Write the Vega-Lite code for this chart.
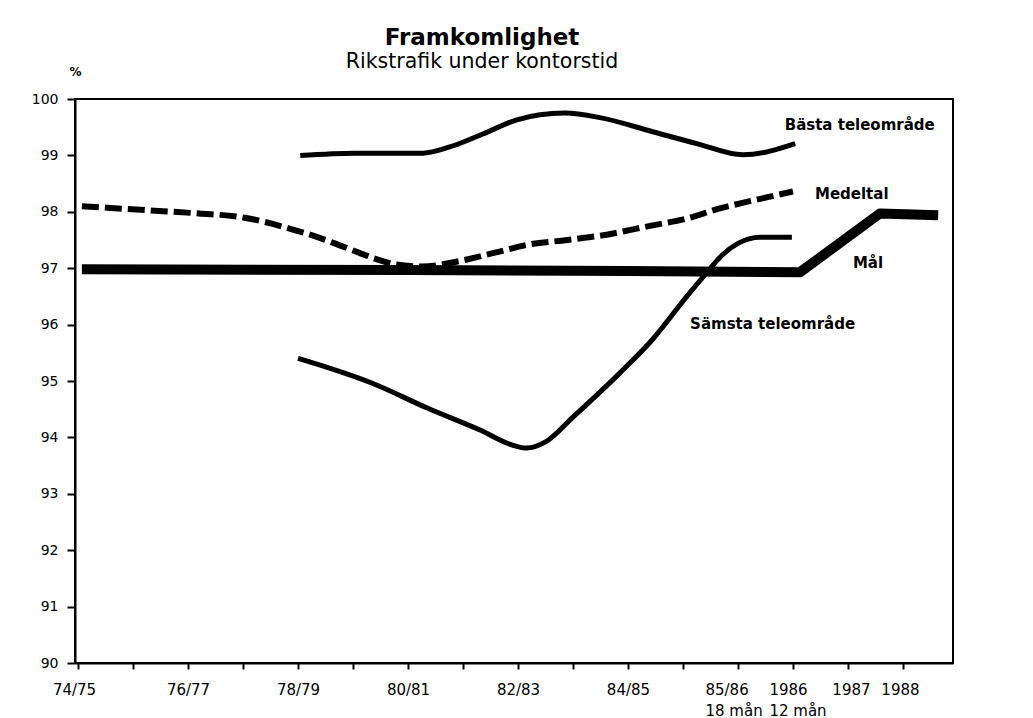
{
  "$schema": "https://vega.github.io/schema/vega-lite/v6.json",
  "autosize": "none",
  "width": 878,
  "height": 564,
  "padding": {"left": 75, "top": 99, "right": 80, "bottom": 55},
  "background": "white",
  "title": {
    "text": "Framkomlighet",
    "subtitle": "Rikstrafik under kontorstid",
    "anchor": "middle",
    "dx": -32,
    "offset": -7,
    "font": "DejaVu Sans",
    "fontSize": 23,
    "fontWeight": "bold",
    "color": "black",
    "subtitleFont": "DejaVu Sans",
    "subtitleFontSize": 20.5,
    "subtitleColor": "black",
    "subtitlePadding": 2
  },
  "config": {
    "view": {"stroke": "black", "strokeWidth": 2},
    "axis": {
      "domainColor": "black",
      "domainWidth": 2,
      "tickColor": "black",
      "tickWidth": 2,
      "labelColor": "black",
      "labelFont": "DejaVu Sans",
      "grid": false
    }
  },
  "datasets": {
    "lines": [
      {"serie": "Bästa teleområde", "x": 4.04, "y": 99.0},
      {"serie": "Bästa teleområde", "x": 5.04, "y": 99.04},
      {"serie": "Bästa teleområde", "x": 6.27, "y": 99.04},
      {"serie": "Bästa teleområde", "x": 6.76, "y": 99.15},
      {"serie": "Bästa teleområde", "x": 7.36, "y": 99.38},
      {"serie": "Bästa teleområde", "x": 7.98, "y": 99.63},
      {"serie": "Bästa teleområde", "x": 8.4, "y": 99.72},
      {"serie": "Bästa teleområde", "x": 8.85, "y": 99.75},
      {"serie": "Bästa teleområde", "x": 9.49, "y": 99.67},
      {"serie": "Bästa teleområde", "x": 10.45, "y": 99.42},
      {"serie": "Bästa teleområde", "x": 11.25, "y": 99.21},
      {"serie": "Bästa teleområde", "x": 12.09, "y": 99.01},
      {"serie": "Bästa teleområde", "x": 13.04, "y": 99.21},
      {"serie": "Medeltal", "x": 0.07, "y": 98.1},
      {"serie": "Medeltal", "x": 1.22, "y": 98.03},
      {"serie": "Medeltal", "x": 2.2, "y": 97.97},
      {"serie": "Medeltal", "x": 3.0, "y": 97.9},
      {"serie": "Medeltal", "x": 3.44, "y": 97.81},
      {"serie": "Medeltal", "x": 3.85, "y": 97.7},
      {"serie": "Medeltal", "x": 4.2, "y": 97.6},
      {"serie": "Medeltal", "x": 4.64, "y": 97.45},
      {"serie": "Medeltal", "x": 5.04, "y": 97.3},
      {"serie": "Medeltal", "x": 5.4, "y": 97.17},
      {"serie": "Medeltal", "x": 5.76, "y": 97.07},
      {"serie": "Medeltal", "x": 6.25, "y": 97.03},
      {"serie": "Medeltal", "x": 6.9, "y": 97.12},
      {"serie": "Medeltal", "x": 7.6, "y": 97.28},
      {"serie": "Medeltal", "x": 8.2, "y": 97.42},
      {"serie": "Medeltal", "x": 8.9, "y": 97.5},
      {"serie": "Medeltal", "x": 9.45, "y": 97.57},
      {"serie": "Medeltal", "x": 10.45, "y": 97.76},
      {"serie": "Medeltal", "x": 11.07, "y": 97.88},
      {"serie": "Medeltal", "x": 11.67, "y": 98.06},
      {"serie": "Medeltal", "x": 12.27, "y": 98.2},
      {"serie": "Medeltal", "x": 13.0, "y": 98.36},
      {"serie": "Mål", "x": 0.07, "y": 96.98},
      {"serie": "Mål", "x": 6.0, "y": 96.97},
      {"serie": "Mål", "x": 10.0, "y": 96.95},
      {"serie": "Mål", "x": 13.13, "y": 96.93},
      {"serie": "Mål", "x": 14.58, "y": 97.97},
      {"serie": "Mål", "x": 15.64, "y": 97.94},
      {"serie": "Sämsta teleområde", "x": 4.0, "y": 95.4},
      {"serie": "Sämsta teleområde", "x": 4.53, "y": 95.24},
      {"serie": "Sämsta teleområde", "x": 5.35, "y": 94.96},
      {"serie": "Sämsta teleområde", "x": 6.35, "y": 94.52},
      {"serie": "Sämsta teleområde", "x": 7.31, "y": 94.13},
      {"serie": "Sämsta teleområde", "x": 7.91, "y": 93.86},
      {"serie": "Sämsta teleområde", "x": 8.16, "y": 93.81},
      {"serie": "Sämsta teleområde", "x": 8.5, "y": 93.92},
      {"serie": "Sämsta teleområde", "x": 9.0, "y": 94.36},
      {"serie": "Sämsta teleområde", "x": 9.85, "y": 95.14},
      {"serie": "Sämsta teleområde", "x": 10.45, "y": 95.74},
      {"serie": "Sämsta teleområde", "x": 11.07, "y": 96.5},
      {"serie": "Sämsta teleområde", "x": 11.44, "y": 96.93},
      {"serie": "Sämsta teleområde", "x": 11.7, "y": 97.22},
      {"serie": "Sämsta teleområde", "x": 12.0, "y": 97.44},
      {"serie": "Sämsta teleområde", "x": 12.4, "y": 97.55},
      {"serie": "Sämsta teleområde", "x": 12.98, "y": 97.55}
    ],
    "labels": [
      {"label": "Bästa teleområde", "x": 12.85, "y": 99.445},
      {"label": "Medeltal", "x": 13.4, "y": 98.22},
      {"label": "Mål", "x": 14.09, "y": 97.0},
      {"label": "Sämsta teleområde", "x": 11.13, "y": 95.93}
    ]
  },
  "encoding": {
    "x": {
      "field": "x",
      "type": "quantitative",
      "scale": {"domain": [-0.055, 15.91], "nice": false, "zero": false},
      "axis": {
        "title": null,
        "values": [0, 1, 2, 3, 4, 5, 6, 7, 8, 9, 10, 11, 12, 13, 14, 15],
        "labelExpr": "datum.value == 0 ? '74/75' : datum.value == 2 ? '76/77' : datum.value == 4 ? '78/79' : datum.value == 6 ? '80/81' : datum.value == 8 ? '82/83' : datum.value == 10 ? '84/85' : datum.value == 12 ? ['85/86', '18 mån'] : datum.value == 13 ? ['1986', '12 mån'] : datum.value == 14 ? '1987' : datum.value == 15 ? '1988' : ''",
        "labelOverlap": false,
        "labelFlush": false,
        "labelFontSize": 15,
        "labelPadding": 13,
        "labelLineHeight": 21,
        "labelAlign": {"condition": {"test": "datum.value == 12 || datum.value == 13", "value": "left"}, "value": "center"},
        "labelOffset": {"condition": [
          {"test": "datum.value == 12", "value": -33},
          {"test": "datum.value == 13", "value": -24},
          {"test": "datum.value == 0", "value": -4},
          {"test": "datum.value == 14", "value": 3},
          {"test": "datum.value == 15", "value": -3}
        ], "value": 0},
        "tickSize": 6
      }
    },
    "y": {
      "field": "y",
      "type": "quantitative",
      "scale": {"domain": [90, 100], "nice": false, "zero": false},
      "axis": {
        "title": "%",
        "titleAngle": 0,
        "titleX": 0,
        "titleY": -24,
        "titleAlign": "center",
        "titleBaseline": "alphabetic",
        "titleFont": "DejaVu Sans",
        "titleFontSize": 12,
        "titleFontWeight": "bold",
        "titleColor": "black",
        "values": [90, 91, 92, 93, 94, 95, 96, 97, 98, 99, 100],
        "labelFontSize": 14,
        "labelPadding": 9,
        "tickSize": 8
      }
    }
  },
  "layer": [
    {
      "data": {"name": "lines"},
      "transform": [{"filter": "datum.serie == 'Mål'"}],
      "mark": {"type": "line", "color": "black", "strokeWidth": 10, "strokeCap": "butt", "strokeJoin": "round"}
    },
    {
      "data": {"name": "lines"},
      "transform": [{"filter": "datum.serie == 'Medeltal'"}],
      "mark": {"type": "line", "color": "black", "strokeWidth": 6, "strokeDash": [17, 6], "strokeCap": "butt", "interpolate": "monotone"}
    },
    {
      "data": {"name": "lines"},
      "transform": [{"filter": "datum.serie == 'Bästa teleområde'"}],
      "mark": {"type": "line", "color": "black", "strokeWidth": 5, "strokeCap": "butt", "interpolate": "monotone"}
    },
    {
      "data": {"name": "lines"},
      "transform": [{"filter": "datum.serie == 'Sämsta teleområde'"}],
      "mark": {"type": "line", "color": "black", "strokeWidth": 5, "strokeCap": "butt", "interpolate": "monotone"}
    },
    {
      "data": {"name": "labels"},
      "mark": {"type": "text", "font": "DejaVu Sans", "fontSize": 15, "fontWeight": "bold", "align": "left", "baseline": "alphabetic", "color": "black"},
      "encoding": {"text": {"field": "label"}}
    }
  ]
}
